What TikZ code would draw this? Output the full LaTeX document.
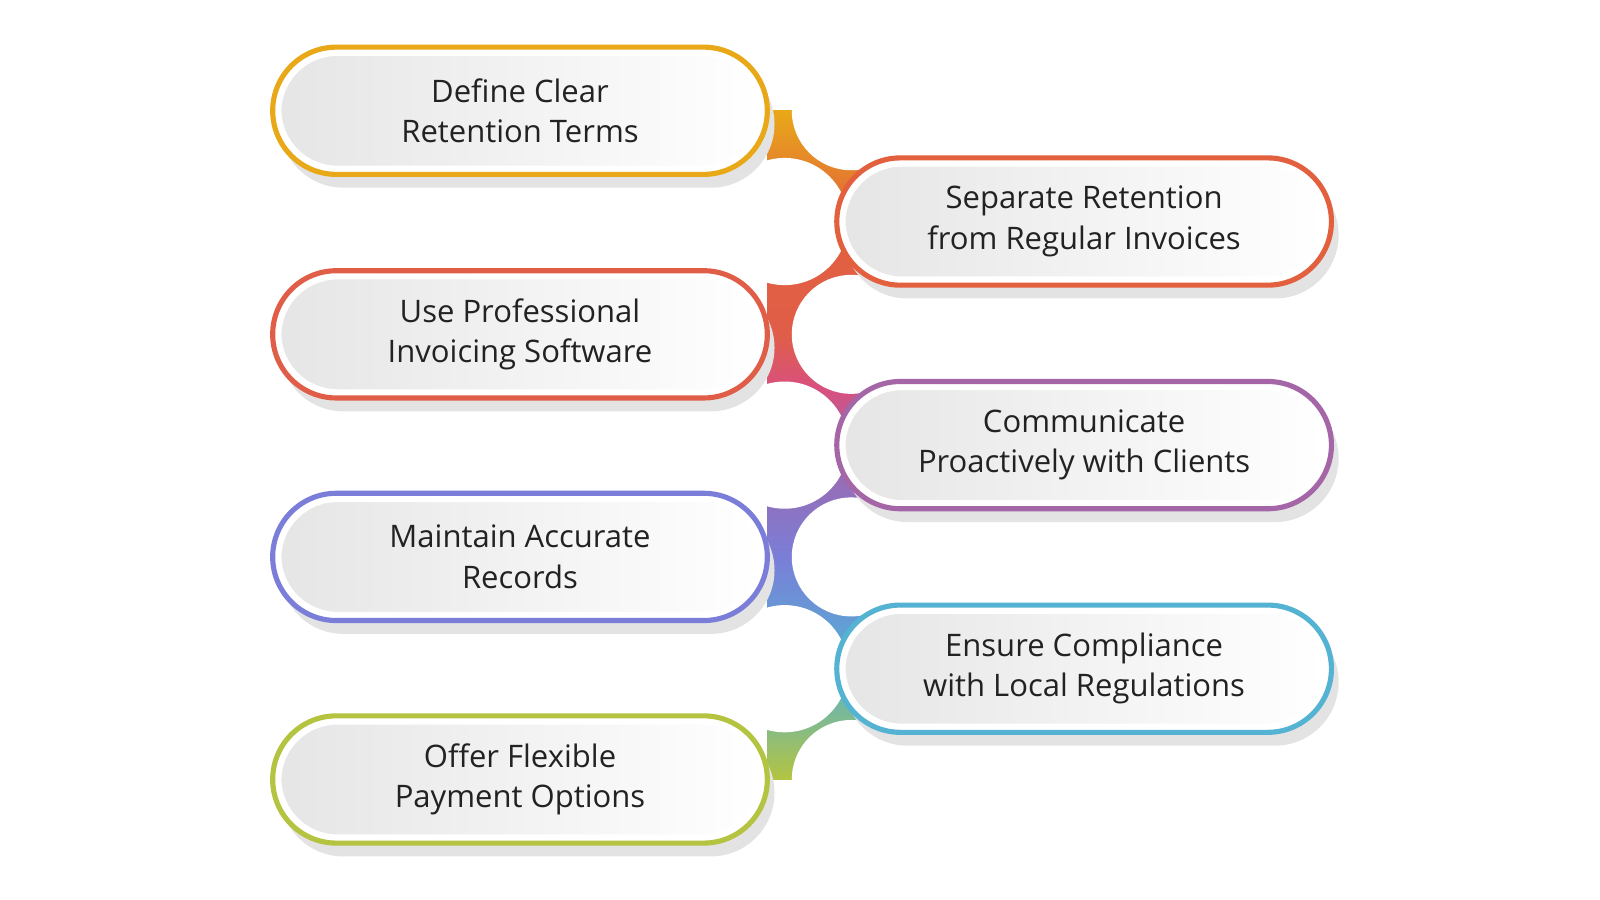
\documentclass[tikz,border=0pt]{standalone}
\usepackage{fontspec}
\setmainfont{Open Sans}
\usetikzlibrary{shadows}
\definecolor{c1}{HTML}{E8A818}
\definecolor{c2}{HTML}{E2603E}
\definecolor{c3}{HTML}{E05E48}
\definecolor{c4}{HTML}{A466A6}
\definecolor{c5}{HTML}{7A7ED8}
\definecolor{c6}{HTML}{54B2D2}
\definecolor{c7}{HTML}{B4C440}
\definecolor{m34}{HTML}{D85080}
\definecolor{txt}{HTML}{222222}
\tikzset{
  pill/.style={rectangle, rounded corners=0.62cm, minimum width=4.82cm, minimum height=1.24cm,
    draw=#1, line width=0.05cm, fill=white,
    drop shadow={shadow xshift=0.07cm, shadow yshift=-0.13cm, fill=black!11, opacity=1}},
  inner/.style={rectangle, rounded corners=0.57cm, minimum width=4.70cm, minimum height=1.12cm,
    draw=white, line width=0.05cm, left color=black!10, right color=white},
  lbl/.style={align=center, text=txt, font=\fontsize{8.6}{11.2}\selectfont},
  hole/.style={fill=white}
}
\newcommand\mypill[5]{%
  \node[pill=#4] (#1) at (#2,#3) {};
  \node[inner] (#1i) at (#2,#3) {};
  \node[lbl] (#1t) at (#2,#3) {#5};
}
\begin{document}
\begin{tikzpicture}[x=0.01cm,y=-0.01cm]
\useasboundingbox (0,0) rectangle (1560,877);
% connector band
\shade[top color=c1, bottom color=c2] (748,108) rectangle (840,216);
\shade[top color=c2, bottom color=c3] (748,216) rectangle (840,326);
\shade[top color=c3, bottom color=m34] (748,326) rectangle (840,380);
\shade[top color=m34, bottom color=c4] (748,380) rectangle (840,434);
\shade[top color=c4, bottom color=c5] (748,434) rectangle (840,543);
\shade[top color=c5, bottom color=c6] (748,543) rectangle (840,652);
\shade[top color=c6, bottom color=c7] (748,652) rectangle (840,760);
% white cut-outs
\foreach \y in {216,434,652} \fill[hole] (765,\y) circle (62);
\foreach \y in {108,326,543,760} \fill[hole] (830,\y) circle (58);
% pills
\mypill{p1}{507}{108}{c1}{Define Clear\\Retention Terms}
\mypill{p2}{1057}{216}{c2}{Separate Retention\\from Regular Invoices}
\mypill{p3}{507}{326}{c3}{Use Professional\\Invoicing Software}
\mypill{p4}{1057}{434}{c4}{Communicate\\Proactively with Clients}
\mypill{p5}{507}{543}{c5}{Maintain Accurate\\Records}
\mypill{p6}{1057}{652}{c6}{Ensure Compliance\\with Local Regulations}
\mypill{p7}{507}{760}{c7}{Offer Flexible\\Payment Options}
\end{tikzpicture}
\end{document}
